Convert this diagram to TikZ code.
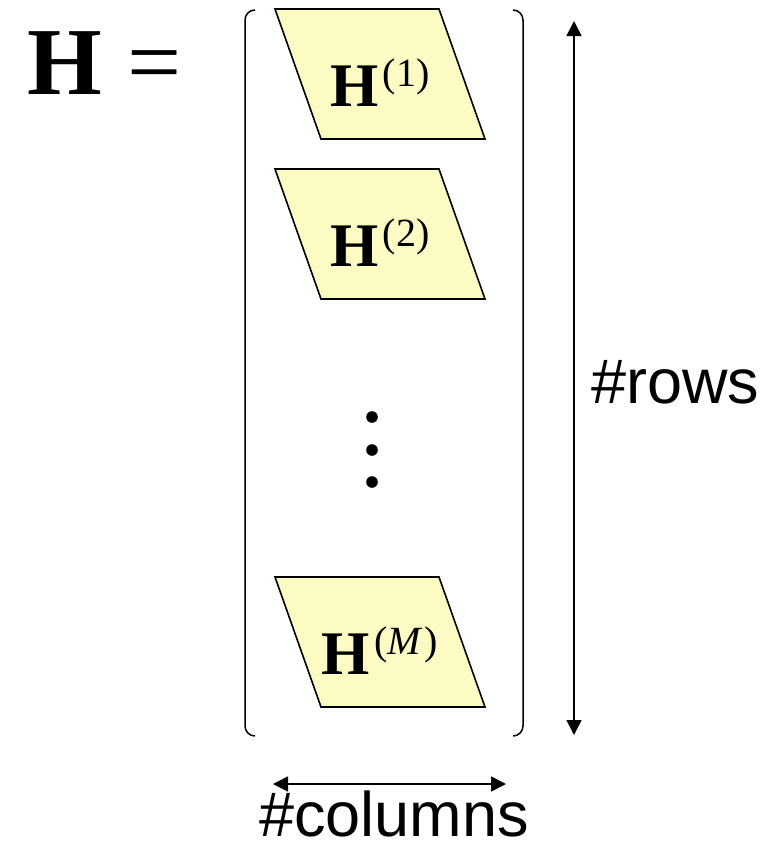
\documentclass[tikz,border=0pt]{standalone}
\usepackage{fontspec}
\setmainfont{Liberation Serif}
\setsansfont{Liberation Sans}
\usepackage{tikz}
\usetikzlibrary{arrows.meta,positioning,calc}
\definecolor{PaleYellow}{HTML}{FCFBC4}
\newcommand{\Hblock}[1]{{\fontsize{62}{62}\selectfont\bfseries H}\kern4pt\raisebox{20pt}{\fontsize{40}{40}\selectfont(#1)}}
\tikzset{
  block/.style={draw=black,fill=PaleYellow,line width=1.6pt,line join=miter},
  blocklabel/.style={anchor=base,inner sep=0pt},
  bracket/.style={draw=black,line width=1.5pt,rounded corners=10pt},
  dimarrow/.style={{Triangle[length=15pt,width=15pt]}-{Triangle[length=15pt,width=15pt]},line width=1.6pt},
  dimtext/.style={inner sep=0pt,font=\sffamily\fontsize{63}{63}\selectfont}
}

\begin{document}
\begin{tikzpicture}[x=1pt,y=-1pt]
        \useasboundingbox (0,0) rectangle (780,844);
        \node[anchor=base west,inner sep=0pt,font=\fontsize{96}{96}\selectfont] (lhs) at (27,94) {\textbf{H} \kern2pt=};
        % brackets
        \draw[bracket] (255,10) -- (245,10) -- (245,736) -- (255,736);
        \draw[bracket] (513,10) -- (523,10) -- (523,736) -- (513,736);
        % blocks
        \foreach \ytop/\idx/\tag in {9/1/1,169/2/2,577/M/\textit{M}\kern2pt} {
          \draw[block] (275,\ytop) -- ++(164,0) -- ++(46,130) -- ++(-164,0) -- cycle;
          \node[blocklabel] (H\idx) at (380,\ytop+97) {\Hblock{\tag}};
        }
        \foreach \y in {417,450,482} \fill (372,\y) circle (5.8pt);
        % dimensions
        \coordinate (rowtop) at (574,21);
        \coordinate (rowbot) at (574,735);
        \draw[dimarrow] (rowtop) -- (rowbot);
        \node[dimtext,anchor=base west] (rows) at (591,403) {\#rows};
        \coordinate (colleft) at (273,784);
        \coordinate (colright) at (506,784);
        \draw[dimarrow] (colleft) -- (colright);
        \node[dimtext,anchor=base] (cols) at (394,836) {\#columns};
      \end{tikzpicture}
\end{document}
